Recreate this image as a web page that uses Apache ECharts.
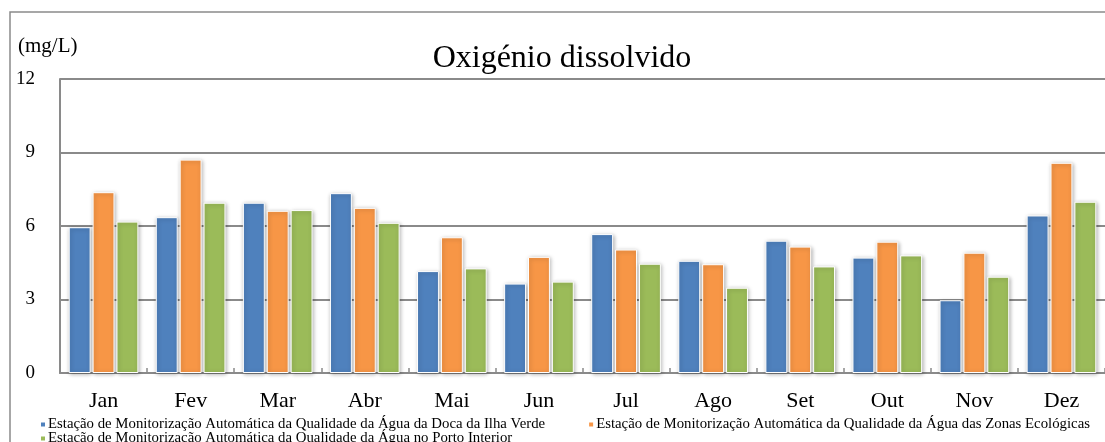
<!DOCTYPE html>
<html>
<head>
<meta charset="utf-8">
<script src="https://cdn.jsdelivr.net/npm/echarts@6/dist/echarts.min.js"></script>
<style>
  html, body { margin: 0; padding: 0; background: #fff; }
  #main { width: 1105px; height: 442px; }
</style>
</head>
<body>
<div id="main"></div>
<script>
// meses
const months = ['Jan', 'Fev', 'Mar', 'Abr', 'Mai', 'Jun', 'Jul', 'Ago', 'Set', 'Out', 'Nov', 'Dez']

// estações
const stationNames = [
  'Estação de Monitorização Automática da Qualidade da Água da Doca da Ilha Verde',
  'Estação de Monitorização Automática da Qualidade da Água das Zonas Ecológicas',
  'Estação de Monitorização Automática da Qualidade da Água no Porto Interior'
]

// valores (mg/L)
const ilhaVerde = [5.95, 6.36, 6.95, 7.34, 4.16, 3.65, 5.67, 4.58, 5.40, 4.71, 2.97, 6.43]
const zonasEcologicas = [7.38, 8.71, 6.62, 6.74, 5.54, 4.74, 5.04, 4.44, 5.16, 5.36, 4.91, 8.58]
const portoInterior = [6.18, 6.95, 6.65, 6.13, 4.27, 3.73, 4.46, 3.48, 4.35, 4.80, 3.93, 6.99]

const yTicks = [0, 3, 6, 9, 12]
const colors = ['#4F81BD', '#F79646', '#9BBB59']
const font = "'Liberation Serif', 'Times New Roman', serif"

const chart = echarts.init(document.getElementById('main'))

const makeSeries = (name, data, color) => ({
  name: name,
  type: 'bar',
  data: data,
  barGap: '9%',
  barCategoryGap: '20%',
  itemStyle: {
    color: color,
    borderColor: '#fff',
    borderWidth: 1,
    shadowBlur: 4,
    shadowColor: 'rgba(0,0,0,0.3)',
    shadowOffsetX: 1,
    shadowOffsetY: 1
  }
})

const legendText = { fontFamily: font, fontSize: 14.8, color: '#000', padding: [0, 0, 0, -3] }

chart.setOption({
  animation: false,
  textStyle: { fontFamily: font },
  title: [
    {
      text: 'Oxigénio dissolvido',
      left: 557,
      textAlign: 'center',
      top: 38,
      textStyle: { fontFamily: font, fontSize: 32, fontWeight: 'normal', color: '#000' }
    },
    {
      text: '(mg/L)',
      left: 13,
      top: 31,
      textStyle: { fontFamily: font, fontSize: 21, fontWeight: 'normal', color: '#000' }
    }
  ],
  // moldura exterior
  graphic: [{
    type: 'rect',
    shape: { x: 10, y: 12, width: 1200, height: 500 },
    style: { fill: 'none', stroke: '#8a8a8a', lineWidth: 1.5 },
    silent: true
  }],
  legend: [
    {
      data: [stationNames[0], stationNames[1]],
      left: 39,
      top: 417,
      icon: 'rect',
      itemWidth: 6,
      itemHeight: 6,
      itemGap: 42,
      padding: 0,
      textStyle: legendText
    },
    {
      data: [stationNames[2]],
      left: 39,
      top: 431,
      icon: 'rect',
      itemWidth: 6,
      itemHeight: 6,
      padding: 0,
      textStyle: legendText
    }
  ],
  grid: { left: 60, top: 79, width: 1047, height: 294 },
  xAxis: {
    type: 'category',
    data: months,
    axisLine: { lineStyle: { color: '#8a8a8a', width: 2 } },
    axisTick: { show: true, inside: true, length: 5, lineStyle: { color: '#8a8a8a', width: 1.5 } },
    axisLabel: { fontFamily: font, fontSize: 22, color: '#000', margin: 17 }
  },
  yAxis: {
    type: 'value',
    min: yTicks[0],
    max: yTicks[yTicks.length - 1],
    interval: 3,
    axisLine: { show: true, lineStyle: { color: '#8a8a8a', width: 2 } },
    axisTick: { show: false },
    axisLabel: { fontFamily: font, fontSize: 19, color: '#000', margin: 25 },
    splitLine: { lineStyle: { color: '#8a8a8a', width: 2 } }
  },
  series: [
    makeSeries(stationNames[0], ilhaVerde, colors[0]),
    makeSeries(stationNames[1], zonasEcologicas, colors[1]),
    makeSeries(stationNames[2], portoInterior, colors[2])
  ]
})
</script>
</body>
</html>
